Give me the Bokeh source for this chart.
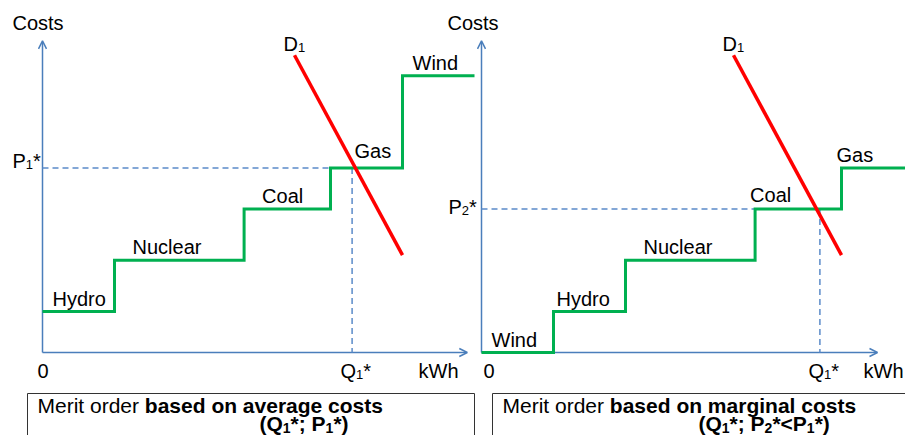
import numpy as np
from bokeh.plotting import figure
from bokeh.models import Range1d, Arrow, OpenHead, ColumnDataSource
from bokeh.core.properties import value
from bokeh.embed import file_html
from bokeh.resources import INLINE

# ---------------- data (schematic units) ----------------
avg_sources = ["Hydro", "Nuclear", "Coal", "Gas", "Wind"]
avg_capacity = [2.0, 3.6, 2.4, 2.0, 2.0]
avg_cost = [4, 9, 14, 18, 27]

marg_sources = ["Wind", "Hydro", "Nuclear", "Coal", "Gas"]
marg_capacity = [2.0, 2.0, 3.6, 2.4, 2.0]
marg_cost = [0, 4, 9, 14, 18]

demand_q = [7.0, 10.0]
demand_cost = [29.0, 9.5]

q1_avg, p1_avg = 8.6, 18
q1_marg, p2_marg = 9.4, 14

cost_axis_max = 30.4
q_axis_max = {"L": 11.8, "R": 11.0}

# ---------------- layout ----------------
W, H = 905, 435
SX0, SX1, SY0, SY1 = 0, W, 0, H          # canvas pixel frame
ORIGIN_X = {"L": 42, "R": 481}
ORIGIN_Y = 352
PX_Q, PX_C = 36.0, 10.25
TEXT_DY = -7                              # baseline correction for svg text

BLUE = "#4A7EBB"
DASH_BLUE = "#5B8BC9"
GREEN = "#00B050"
RED = "#FF0000"
FONT = "Liberation Sans"

p = figure(width=W, height=H, x_range=Range1d(SX0, SX1), y_range=Range1d(SY1, SY0),
           output_backend="svg", toolbar_location=None, min_border=0,
           x_axis_location=None, y_axis_location=None)
p.grid.visible = False
p.outline_line_color = None
p.background_fill_color = "white"
p.border_fill_color = "white"

p.extra_x_ranges = {
    "qL": Range1d((SX0 - ORIGIN_X["L"]) / PX_Q, (SX1 - ORIGIN_X["L"]) / PX_Q),
    "qR": Range1d((SX0 - ORIGIN_X["R"]) / PX_Q, (SX1 - ORIGIN_X["R"]) / PX_Q),
}
p.extra_y_ranges = {"cost": Range1d((ORIGIN_Y - SY1) / PX_C, (ORIGIN_Y - SY0) / PX_C)}


def panel(side, sources, capacity, cost, q1, pstar, label_dx, label_dy):
    xr = "q" + side
    bounds = np.concatenate([[0.0], np.cumsum(capacity)])
    levels = list(cost) + [cost[-1]]
    # axes
    for xe, ye in [(0, cost_axis_max), (q_axis_max[side], 0)]:
        p.add_layout(Arrow(x_start=0, y_start=0, x_end=xe, y_end=ye,
                           x_range_name=xr, y_range_name="cost",
                           line_color=BLUE, line_width=1.5, level="underlay",
                           end=OpenHead(size=8, line_color=BLUE, line_width=1.5)))
    # dashed guides
    idx = list(cost).index(pstar)
    p.line([0, bounds[idx]], [pstar, pstar], x_range_name=xr, y_range_name="cost",
           line_color=DASH_BLUE, line_width=1.5, line_dash="6 4")
    p.line([q1, q1], [pstar, 0], x_range_name=xr, y_range_name="cost",
           line_color=DASH_BLUE, line_width=1.5, line_dash="6 4")
    # merit order supply curve
    p.step(bounds, levels, mode="after", x_range_name=xr, y_range_name="cost",
           line_color=GREEN, line_width=3, line_join="miter")
    # demand
    p.line(demand_q, demand_cost, x_range_name=xr, y_range_name="cost",
           line_color=RED, line_width=3.5)
    # source labels
    src = ColumnDataSource(dict(x=bounds[:-1], y=cost, t=sources, dx=label_dx,
                                dy=[d + TEXT_DY for d in label_dy]))
    p.text(x="x", y="y", text="t", x_offset="dx", y_offset="dy", source=src,
           x_range_name=xr, y_range_name="cost",
           text_font=value(FONT), text_font_size="20px", text_color="black",
           text_baseline="alphabetic", text_align="left")


panel("L", avg_sources, avg_capacity, avg_cost, q1_avg, p1_avg,
      [10, 18, 18, 24, 10], [-6, -6, -6, -10, -6])
panel("R", marg_sources, marg_capacity, marg_cost, q1_marg, p2_marg,
      [10, 3, 18, -5, -5], [-6, -6, -6, -7, -6])

# explanation boxes
p.quad(left=[27, 492], right=[474, 940], top=[393, 393], bottom=[470, 470],
       fill_color=None, line_color="#333333", line_width=1)

# ---------------- rich text helper ----------------
W_REG = {"M": 833, "e": 556, "r": 333, "i": 222, "t": 278, " ": 278, "o": 556, "d": 556,
         "P": 667, "Q": 778, "D": 722, "*": 389, "1": 556, "2": 556, ";": 278,
         "(": 333, ")": 333, "<": 584, "C": 722, "s": 500, "k": 500, "W": 944, "h": 556, "0": 556}
W_BOLD = {"b": 611, "a": 556, "s": 556, "e": 556, "d": 611, "o": 611, "n": 611, "v": 556,
          "r": 389, "g": 611, "c": 556, "t": 333, "m": 889, "i": 278, "l": 278, " ": 278,
          "P": 667, "Q": 778, "*": 389, ";": 333, "(": 333, ")": 333, "<": 584,
          "1": 556, "2": 556}


def advance(s, size, bold):
    tbl = W_BOLD if bold else W_REG
    return sum(tbl.get(c, 556) for c in s) * size / 1000.0


texts = {}


def rich(x, y, parts, size=20):
    for s, sub, bold in parts:
        fs = round(size * 0.65) if sub else size
        dy = size * 0.2 if sub else 0
        d = texts.setdefault((fs, bold), {"x": [], "y": [], "t": []})
        d["x"].append(x)
        d["y"].append(y + dy + TEXT_DY)
        d["t"].append(s)
        x += advance(s, fs, bold)


N, S = 0, 1
rich(12, 29, [("Costs", N, False)])
rich(447, 29, [("Costs", N, False)])
rich(12, 167, [("P", N, False), ("1", S, False), ("*", N, False)])
rich(448, 213, [("P", N, False), ("2", S, False), ("*", N, False)])
rich(283, 50, [("D", N, False), ("1", S, False)])
rich(722, 50, [("D", N, False), ("1", S, False)])
rich(37, 377, [("0", N, False)])
rich(483, 377, [("0", N, False)])
rich(340, 377, [("Q", N, False), ("1", S, False), ("*", N, False)])
rich(808, 377, [("Q", N, False), ("1", S, False), ("*", N, False)])
rich(418, 377, [("kWh", N, False)])
rich(863, 377, [("kWh", N, False)])

rich(37, 412, [("Merit order ", N, False), ("based on average costs", N, True)], size=21)
rich(259, 430, [("(Q", N, True), ("1", S, True), ("*; P", N, True), ("1", S, True),
                ("*)", N, True)], size=21)
rich(502, 412, [("Merit order ", N, False), ("based on marginal costs", N, True)], size=21)
rich(698, 430, [("(Q", N, True), ("1", S, True), ("*; P", N, True), ("2", S, True),
                ("*<P", N, True), ("1", S, True), ("*)", N, True)], size=21)

for (fs, bold), d in texts.items():
    p.text(x=d["x"], y=d["y"], text=d["t"], text_font=value(FONT),
           text_font_size=f"{fs}px", text_font_style="bold" if bold else "normal",
           text_color="black", text_baseline="alphabetic", text_align="left")

open("out.html", "w").write(file_html(p, INLINE))
